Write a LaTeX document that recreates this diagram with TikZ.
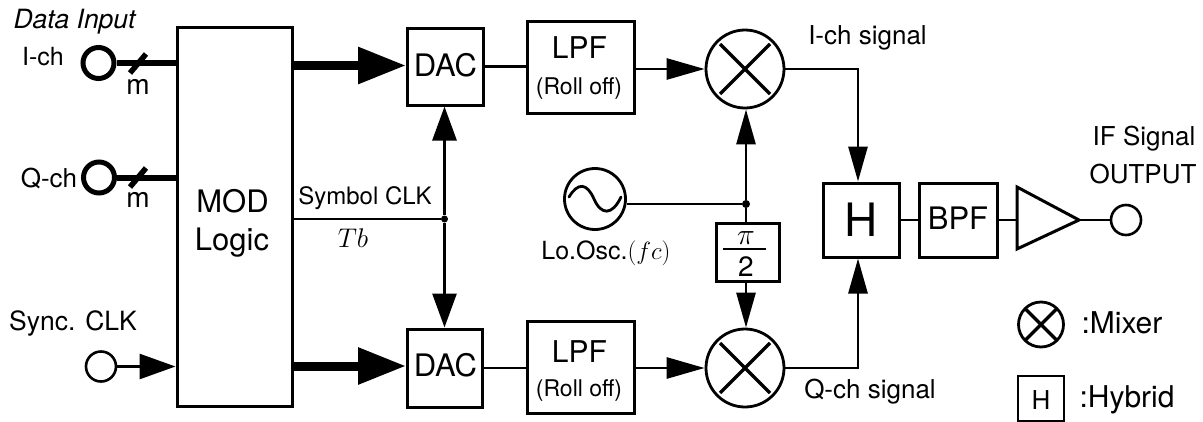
\documentclass[tikz,border=0pt]{standalone}
\usepackage{fix-cm}
\usepackage{fontspec}
\setmainfont{TeX Gyre Heros}
\usetikzlibrary{arrows.meta}
\newcommand{\fsz}[1]{\fontsize{#1}{#1}\selectfont}
\tikzset{
  block/.style={draw,line width=3pt,inner sep=0pt},
  mixer/.style 2 args={draw,circle,line width=2.8pt,inner sep=0pt,minimum size=#1,
    path picture={\draw[line width=3.4pt,shift={(path picture bounding box.center)}] (-#2,-#2)--(#2,#2) (-#2,#2)--(#2,-#2);}},
  port/.style={draw,circle,line width=2.6pt,inner sep=0pt,minimum size=30pt},
  dataport/.style={draw,circle,line width=5pt,inner sep=0pt,minimum size=31pt},
  wire/.style={line width=2.8pt},
  bus/.style={line width=6pt},
  slash/.style={line width=5.5pt},
  tipS/.style={-{Triangle[length=36pt,width=25pt]}},
  tipV/.style={-{Triangle[length=35pt,width=19pt]}},
  tipH/.style={-{Triangle[length=38pt,width=21pt]}},
  tipB/.style={line width=9pt,-{Triangle[length=48pt,width=35pt]}},
  tipM/.style={-{Triangle[length=34pt,width=24pt]}},
  lab/.style={inner sep=0pt,font=\fsz{26}},
  big/.style={inner sep=0pt,font=\fsz{31}},
  small/.style={inner sep=0pt,font=\fsz{23}},
  title/.style={inner sep=0pt,font=\fsz{30}},
}
\begin{document}
\begin{tikzpicture}[x=1pt,y=-1pt]
\useasboundingbox (0,0) rectangle (1203,421);
% blocks
\node[block,minimum width=115pt,minimum height=379pt] (mod) at (234.5,216.5) {};
\node[big] (modt) at (232.5,201) {MOD};
\node[big] (logt) at (232,243) {Logic};
\node[block,minimum width=76pt,minimum height=77pt] (dac1) at (445,66.5) {};
\node[big] (dac1t) at (445.5,65) {DAC};
\node[block,minimum width=75pt,minimum height=78pt] (dac2) at (444.5,368) {};
\node[big] (dac2t) at (445.5,365) {DAC};
\node[block,minimum width=107pt,minimum height=92pt] (lpf1) at (580.5,67) {};
\node[title] (lpf1t) at (579.5,48) {LPF};
\node[small] (lpf1s) at (579,89) {(Roll off)};
\node[block,minimum width=107pt,minimum height=92pt] (lpf2) at (580.5,367) {};
\node[title] (lpf2t) at (579.5,352) {LPF};
\node[small] (lpf2s) at (579,391) {(Roll off)};
\node[mixer={78pt}{25pt}] (mix1) at (745,69) {};
\node[mixer={78pt}{25pt}] (mix2) at (745,368) {};
\node[draw,circle,line width=2.8pt,minimum size=61pt,inner sep=0pt] (osc) at (595,199) {};
\draw[wire,line cap=round] (569,197) .. controls (578,182) and (587,183) .. (594,199)
   .. controls (601,215) and (612,216) .. (621,197);
\node[block,minimum width=63pt,minimum height=58pt] (pi2) at (747.5,252) {};
\node[inner sep=0pt,font=\fsz{30}] (pi2a) at (746,238) {$\pi$};
\node[inner sep=0pt,font=\fsz{28}] (pi2b) at (746,267) {2};
\coordinate (barL) at (723,249); \coordinate (barR) at (766,249);
\draw[line width=2.6pt] (barL) -- (barR);
\node[block,minimum width=76pt,minimum height=74pt,font=\fsz{46}] (hyb) at (861,220) {};
\node[inner sep=0pt,font=\fsz{46}] (hybt) at (861,220) {H};
\node[block,minimum width=78pt,minimum height=74pt] (bpf) at (958,220) {};
\node[big] (bpft) at (958,218) {BPF};
\coordinate (ampL) at (1017,220);
\coordinate (ampA) at (1079,220);
\draw[line width=3pt,line join=miter] (1017,187) -- (ampA) -- (1017,249) -- cycle;
\node[port] (out) at (1126,220) {};
% ports
\node[dataport] (ip) at (98.5,63) {};
\node[dataport] (qp) at (99,177.5) {};
\node[port] (sp) at (101,366.5) {};
% junctions
\node[circle,fill,inner sep=0pt,minimum size=7pt] (jclk) at (444.5,219) {};
\node[circle,fill,inner sep=0pt,minimum size=8pt] (jlo) at (746,204) {};
\coordinate (dac1in) at (406,65.5);
\coordinate (dac2in) at (406,366);
% connectors
\draw[bus] (ip.east) -- (ip.east -| mod.west);
\draw[bus] (qp.east) -- (qp.east -| mod.west);
\coordinate (s1a) at (130,73); \coordinate (s1b) at (146,54);
\coordinate (s2a) at (130,187); \coordinate (s2b) at (146,168);
\draw[slash] (s1a) -- (s1b);
\draw[slash] (s2a) -- (s2b);
\draw[wire,tipS] (sp.east) -- (sp.east -| mod.west);
\draw[tipB] (mod.east |- dac1in) -- (dac1in);
\draw[tipB] (mod.east |- dac2in) -- (dac2in);
\draw[wire] (mod.east |- jclk) -- (jclk);
\draw[wire,tipM] (jclk) -- (jclk |- dac1.south);
\draw[wire,tipM] (jclk) -- (jclk |- dac2.north);
\draw[wire] (dac1.east) -- (dac1.east -| lpf1.west);
\draw[wire] (dac2.east) -- (dac2.east -| lpf2.west);
\draw[wire,tipH] (lpf1.east |- mix1.west) -- (mix1.west);
\draw[wire,tipH] (lpf2.east |- mix2.west) -- (mix2.west);
\draw[wire] (osc.east |- jlo) -- (jlo);
\draw[wire,tipV] (jlo) -- (jlo |- mix1.south);
\draw[wire] (jlo) -- (jlo |- pi2.north);
\draw[wire,tipV] (jlo |- pi2.south) -- (jlo |- mix2.north);
\draw[wire,tipV] (mix1.east) -| ([xshift=-3pt]hyb.north);
\draw[wire,tipV] (mix2.east) -| ([xshift=-3pt]hyb.south);
\draw[wire] (hyb.east) -- (bpf.west);
\draw[wire] (bpf.east) -- (ampL);
\draw[wire] (ampA) -- (out.west);
% labels
\node[lab,font=\fsz{26.5}\itshape] (tdata) at (74.5,22) {Data Input};
\node[lab,font=\fsz{25}] (tich) at (43,57) {I-ch};
\node[lab] (tqch) at (49,178) {Q-ch};
\node[lab,font=\fsz{28}] (tm1) at (138,87) {m};
\node[lab,font=\fsz{28}] (tm2) at (138,200) {m};
\node[lab,font=\fsz{26.5}] (tsync) at (73,323) {Sync. CLK};
\node[lab,font=\fsz{24}] (tsym) at (365,198) {Symbol CLK};
\node[lab,font=\fsz{27}] (ttb) at (353,238) {$Tb$};
\node[lab,font=\fsz{25}] (tlo) at (606,253) {Lo.Osc.$(fc)$};
\node[lab] (tisig) at (867.5,38) {I-ch signal};
\node[lab] (tqsig) at (870,392) {Q-ch signal};
\node[lab] (tif) at (1144,139) {IF Signal};
\node[lab] (tout) at (1143,174) {OUTPUT};
\node[mixer={45pt}{17pt}] (lmix) at (1041,324.5) {};
\node[title] (tmix) at (1122,323) {:Mixer};
\node[draw,line width=2.2pt,minimum width=46pt,minimum height=45pt,inner sep=0pt] (lhyb) at (1041,398.5) {};
\node[lab] (lhybt) at (1041,400) {H};
\node[title] (thyb) at (1127,400) {:Hybrid};
\end{tikzpicture}
\end{document}
